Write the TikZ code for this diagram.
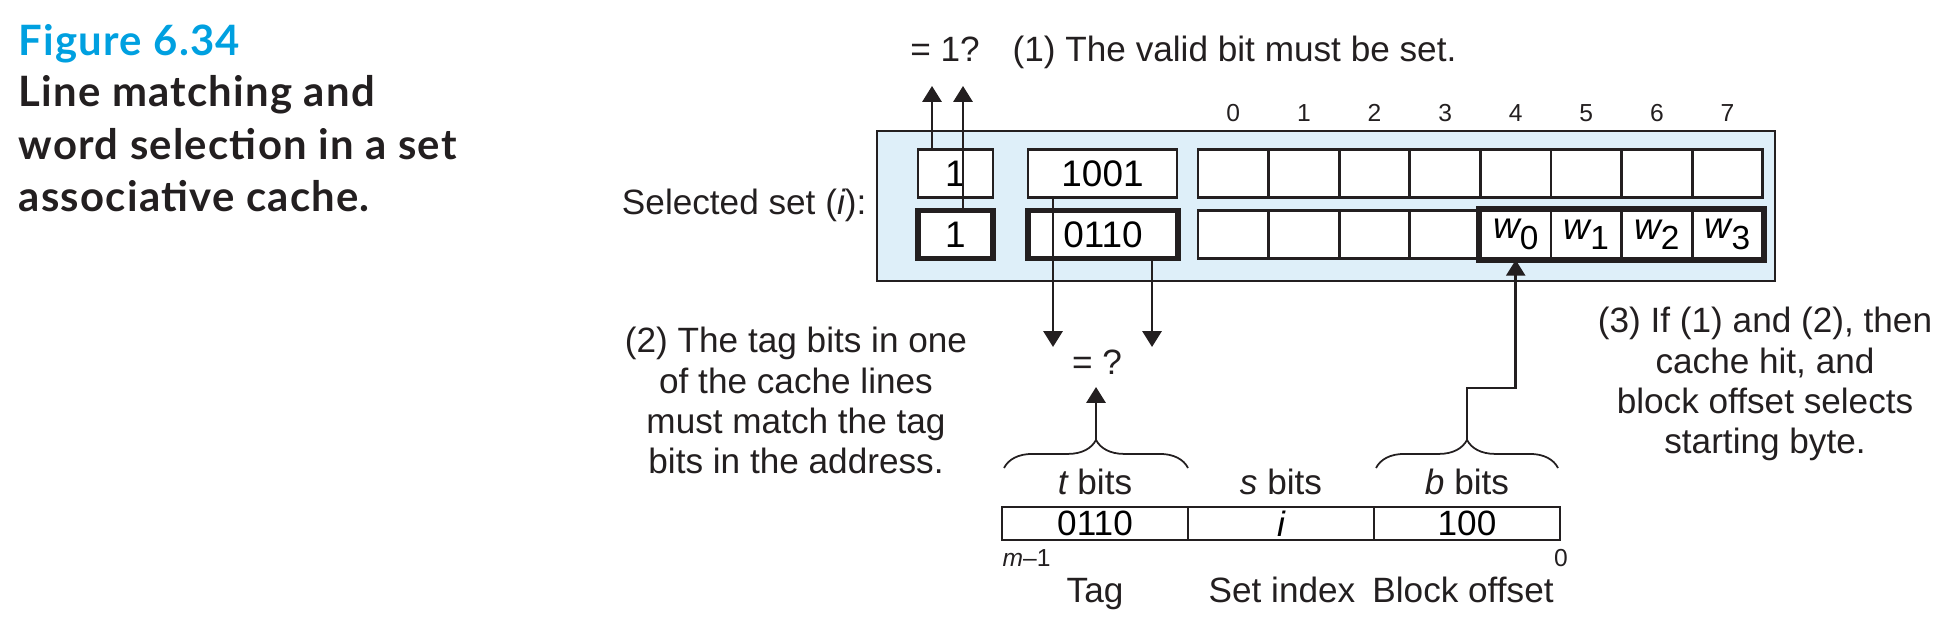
\documentclass[tikz,border=0pt]{standalone}
\usepackage{fontspec}
\setmainfont{Liberation Sans}
\newfontfamily\capfont[LetterSpace=3]{Lato}
\usetikzlibrary{arrows.meta,decorations.pathreplacing}

\definecolor{cInk}{HTML}{231F20}
\definecolor{cFig}{HTML}{00A0E0}
\definecolor{cSet}{HTML}{DEEFF9}
\providecommand{\wsub}[1]{{\itshape w}\raisebox{-0.28em}{\fontsize{9.5}{10}\selectfont #1}}

\tikzset{
  cell/.style={draw=cInk, fill=white, line width=0.8pt, inner sep=0pt,
    minimum height=0.48cm, font=\fontsize{10.5}{12}\selectfont},
  thickcell/.style={cell, line width=1.5pt},
  arr/.style={draw=cInk, line width=0.75pt, -{Triangle[length=4.5pt,width=5.4pt]}},
  brc/.style={draw=cInk, line width=0.5pt, decorate, decoration={brace, amplitude=8pt}},
  lbl/.style={text=cInk, inner sep=0pt, font=\fontsize{10}{11.5}\selectfont},
  idxlbl/.style={text=cInk, inner sep=0pt, font=\fontsize{7}{8}\selectfont},
  caplbl/.style={text=cInk, inner sep=0pt, anchor=base west,
    font=\capfont\bfseries\fontsize{11.9}{14}\selectfont},
}

\begin{document}
\begin{tikzpicture}[x=0.01cm, y=-0.01cm]
  \useasboundingbox (0,0) rectangle (1949,628);

  % --------------------------------------------------------------------------
  % Caption
  % --------------------------------------------------------------------------
  \node[caplbl, text=cFig] (fig)  at (18,56)  {Figure 6.34};
  \node[caplbl]            (cap1) at (18,107) {Line matching and};
  \node[caplbl]            (cap2) at (18,160) {word selection in a set};
  \node[caplbl]            (cap3) at (18,212) {associative cache.};

  % --------------------------------------------------------------------------
  % Selected set: two lines (valid, tag, block of 8 bytes)
  % --------------------------------------------------------------------------
  \draw[cInk, fill=cSet, line width=0.8pt] (877,131) rectangle (1775,281);

  \node[lbl, anchor=base east] (setlbl) at (867,215) {Selected set ({\itshape i}):};

  \node[cell,      minimum width=0.75cm] (valid1) at (955.5,173.5) {1};
  \node[thickcell, minimum width=0.75cm] (valid2) at (955.5,234.5) {1};
  \node[cell,      minimum width=1.49cm] (tag1)   at (1102.5,173.5) {1001};
  \node[thickcell, minimum width=1.50cm] (tag2)   at (1103,234.5) {0110};

  \foreach \k in {0,...,7} {
    \node[cell, minimum width=0.706cm] (top\k) at ({1233.3+70.6*\k},173.5) {};
    \node[idxlbl, anchor=base] (col\k) at ({1233.3+70.6*\k},122) {\k};
  }
  \foreach \k in {0,...,3}
    \node[cell, minimum width=0.706cm] (bot\k) at ({1233.3+70.6*\k},234.5) {};
  \foreach \k/\w in {4/0,5/1,6/2,7/3}
    \node[cell, minimum width=0.706cm] (bot\k) at ({1233.3+70.6*\k},234.5) {\wsub{\w}};
  \draw[cInk, line width=1.5pt] (bot4.north west) rectangle (bot7.south east);

  % --------------------------------------------------------------------------
  % (1) valid bits
  % --------------------------------------------------------------------------
  \coordinate (vq1) at (932,86);
  \coordinate (vq2) at (963,86);
  \draw[arr] (valid1.north -| vq1) -- (vq1);
  \draw[arr] (valid2.north -| vq2) -- (vq2);

  \node[lbl, anchor=base]      (eqone) at (945,62)  {= 1?};
  \node[lbl, anchor=base west] (step1) at (1012,62) {(1) The valid bit must be set.};

  % --------------------------------------------------------------------------
  % (2) tag compare
  % --------------------------------------------------------------------------
  \coordinate (tq1) at (1053,347);
  \coordinate (tq2) at (1152,347);
  \draw[arr] (tag1.south -| tq1) -- (tq1);
  \draw[arr] (tag2.south -| tq2) -- (tq2);

  \node[lbl, anchor=base] (eqtag) at (1097,375) {= ?};

  % base of a multi-line node is its last line
  \node[lbl, anchor=base, align=center] (step2) at (796,474)
    {(2) The tag bits in one\\of the cache lines\\must match the tag\\bits in the address.};

  % --------------------------------------------------------------------------
  % Address
  % --------------------------------------------------------------------------
  \node[cell, minimum width=1.86cm, minimum height=0.33cm, font=\fontsize{10}{11.5}\selectfont]
    (addrt) at (1095,523.5) {0110};
  \node[cell, minimum width=1.86cm, minimum height=0.33cm, font=\fontsize{10}{11.5}\selectfont]
    (addrs) at (1281,523.5) {{\itshape i}};
  \node[cell, minimum width=1.86cm, minimum height=0.33cm, font=\fontsize{10}{11.5}\selectfont]
    (addrb) at (1467,523.5) {100};

  \node[lbl, anchor=base] (tbits) at (1095,495) {{\itshape t} bits};
  \node[lbl, anchor=base] (sbits) at (1281,495) {{\itshape s} bits};
  \node[lbl, anchor=base] (bbits) at (1467,495) {{\itshape b} bits};

  \draw[brc] (1004,468) -- (1188,468);
  \draw[brc] (1376,468) -- (1558,468);

  \node[idxlbl, anchor=base west] (msb) at (1002,567) {{\itshape m}–1};
  \node[idxlbl, anchor=base]      (lsb) at (1561,567) {0};

  \node[lbl, anchor=base] (fldt) at (1095,603) {Tag};
  \node[lbl, anchor=base] (flds) at (1282,603) {Set index};
  \node[lbl, anchor=base] (fldb) at (1463,603) {Block offset};

  % --------------------------------------------------------------------------
  % Brace outputs
  % --------------------------------------------------------------------------
  \coordinate (ttip)  at (1096,440);
  \coordinate (tqq)   at (1096,387);
  \coordinate (btip)  at (1467,440);
  \coordinate (wbend) at (1515.7,388);
  \draw[arr] (ttip) -- (tqq);
  \draw[arr] (btip) |- (wbend) -- (bot4.south);

  % --------------------------------------------------------------------------
  % (3) word selection
  % --------------------------------------------------------------------------
  \node[lbl, anchor=base, align=center] (step3) at (1765,454)
    {(3) If (1) and (2), then\\cache hit, and\\block offset selects\\starting byte.};

\end{tikzpicture}
\end{document}
